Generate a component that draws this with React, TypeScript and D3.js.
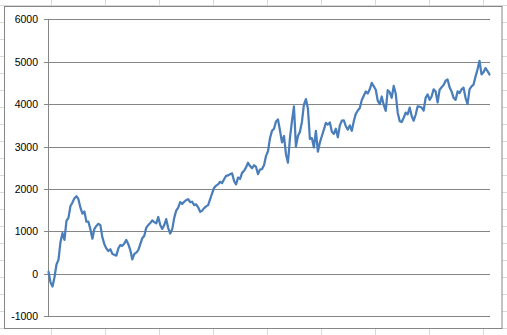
import React from "react";
import * as d3 from "d3";

const yTicks = [-1000, 0, 1000, 2000, 3000, 4000, 5000, 6000];

const values = [
  50, -200, -300, -80, 220, 330, 750, 960, 800, 1250,
  1320, 1600, 1680, 1780, 1830, 1760, 1560, 1420, 1470, 1230,
  1230, 1050, 830, 1060, 1130, 1180, 1150, 860, 700, 600,
  540, 580, 470, 450, 430, 600, 680, 660, 720, 800,
  700, 560, 340, 470, 500, 560, 700, 840, 900, 1090,
  1150, 1200, 1260, 1220, 1190, 1340, 1150, 1060, 1150, 1290,
  1080, 950, 1050, 1320, 1490, 1560, 1690, 1650, 1700, 1740,
  1760, 1690, 1700, 1620, 1640, 1570, 1460, 1490, 1550, 1590,
  1620, 1760, 1900, 2030, 2080, 2110, 2170, 2140, 2230, 2310,
  2320, 2350, 2370, 2190, 2110, 2270, 2240, 2380, 2430, 2510,
  2620, 2540, 2490, 2560, 2520, 2350, 2460, 2470, 2560, 2780,
  2890, 3200, 3370, 3420, 3590, 3640, 3380, 3100, 3250, 2820,
  2620, 3200, 3600, 3950, 3000, 3250, 3350, 3580, 3990, 4120,
  3900, 3180, 3200, 2980, 3370, 2880, 3100, 3250, 3400, 3560,
  3520, 3570, 3350, 3300, 3420, 3220, 3500, 3610, 3620, 3480,
  3400, 3500, 3370, 3600, 3770, 3850, 3910, 4100, 4200, 4300,
  4250, 4350, 4500, 4420, 4340, 4080, 4000, 4180, 3980, 3840,
  4330, 4280, 4150, 4430, 4250, 3800, 3600, 3580, 3680, 3800,
  3760, 3920, 3720, 3610, 3750, 3950, 3940, 3920, 3850, 4150,
  4230, 4100, 4180, 4350, 4300, 4040, 4340, 4400, 4450, 4550,
  4580, 4400, 4300, 4150, 4100, 4300, 4260, 4350, 4390, 4150,
  4000, 4350, 4420, 4460, 4650, 4820, 5020, 4700, 4750, 4850,
  4780, 4700,
];

export default function App() {
  const W = 507;
  const H = 335;
  const y = d3.scaleLinear().domain([-1000, 6000]).range([316.3, 19.3]);
  const x = d3.scaleLinear().domain([0, values.length - 1]).range([48.5, 489.5]);
  const line = d3
    .line<number>()
    .x((_, i) => x(i))
    .y((d) => y(d));

  const cols = d3.range(0, 9).map((k) => 51.5 + 54 * k);
  const rows = d3.range(0, 20).map((k) => 5.5 + 17 * k);

  return (
    <div style={{ position: "fixed", left: 0, top: 0 }}>
      <svg width={W} height={H} style={{ display: "block", background: "#fff" }}>
        {cols.map((cx) => (
          <line key={"c" + cx} x1={cx} x2={cx} y1={0} y2={H} stroke="#d9d9d9" strokeWidth={1} />
        ))}
        {rows.map((ry) => (
          <line key={"r" + ry} x1={0} x2={W} y1={ry} y2={ry} stroke="#d9d9d9" strokeWidth={1} />
        ))}
        <rect x={4.5} y={6.5} width={497.5} height={322} fill="#fff" stroke="#868686" strokeWidth={1} />
        {yTicks.map((t) => (
          <g key={t}>
            <line
              x1={44}
              x2={490}
              y1={Math.round(y(t)) + 0.5}
              y2={Math.round(y(t)) + 0.5}
              stroke="#868686"
              strokeWidth={1}
            />
            <text
              x={38}
              y={Math.round(y(t)) + 0.5}
              dy="0.35em"
              textAnchor="end"
              fontFamily="'Liberation Sans', Arial, sans-serif"
              fontSize={10.5}
              fill="#000"
            >
              {t}
            </text>
          </g>
        ))}
        <line x1={48.5} x2={48.5} y1={Math.round(y(6000))} y2={Math.round(y(-1000)) + 1} stroke="#868686" strokeWidth={1} />
        <path
          d={line(values) || ""}
          fill="none"
          stroke="#4a7ebb"
          strokeWidth={2.25}
          strokeLinejoin="round"
          strokeLinecap="round"
        />
      </svg>
    </div>
  );
}
